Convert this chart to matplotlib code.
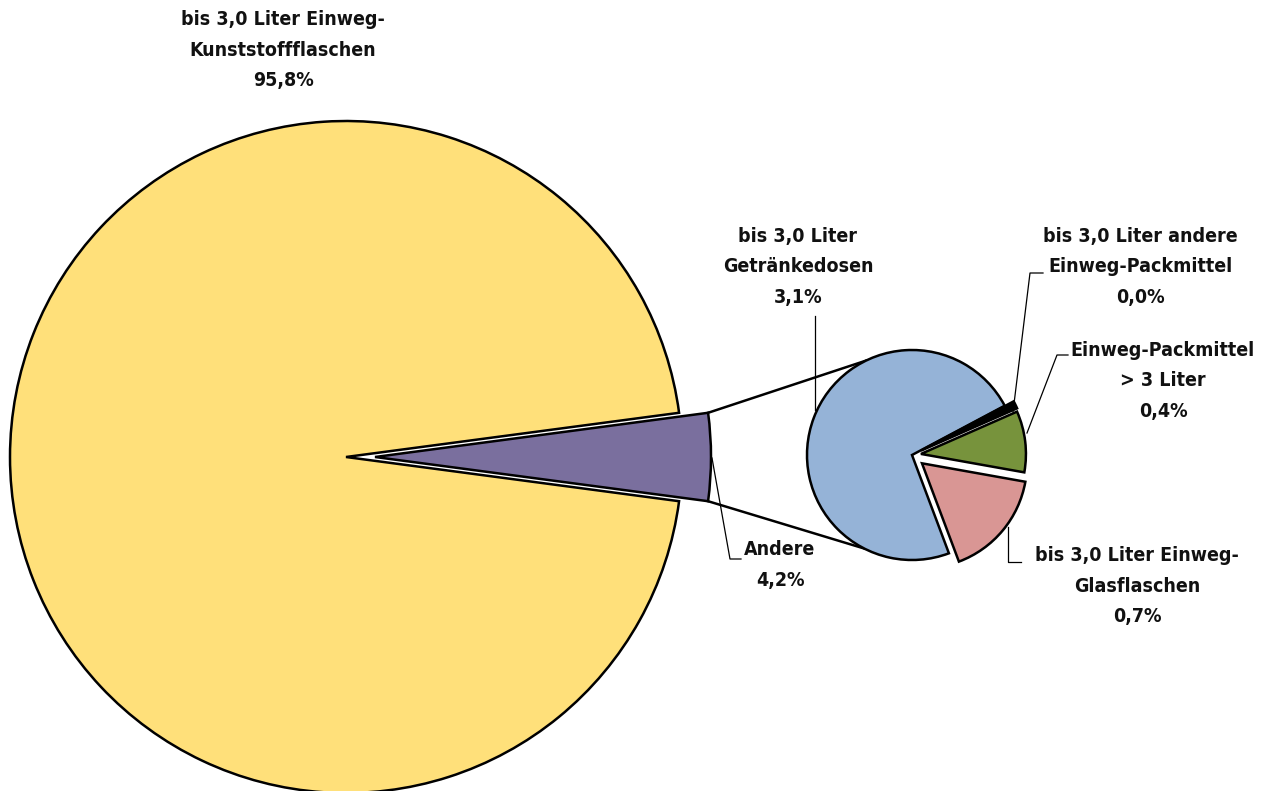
import numpy as np
import matplotlib
matplotlib.use('Agg')
import matplotlib.pyplot as plt

# big pie
main_labels = ['bis 3,0 Liter Einweg-\nKunststoffflaschen', 'Andere']
main_values = [95.8, 4.2]
main_colors = ['#FFE07A', '#7A6F9E']

# small pie (breakdown of "Andere")
sub_labels = ['bis 3,0 Liter\nGetränkedosen', 'bis 3,0 Liter Einweg-\nGlasflaschen',
              'Einweg-Packmittel\n> 3 Liter', 'bis 3,0 Liter andere\nEinweg-Packmittel']
sub_values = [3.1, 0.7, 0.4, 0.0]
sub_colors = ['#95B3D7', '#D99694', '#77933C', '#000000']

W, H = 1271, 791
plt.rcParams['font.family'] = ['DejaVu Sans']
plt.rcParams['font.stretch'] = 'condensed'

fig = plt.figure(figsize=(W / 100, H / 100), dpi=100)
ax = fig.add_axes([0, 0, 1, 1])

def Y(py):
    # pixel row -> data y
    return H - py

edge = dict(edgecolor='black', linewidth=1.8)

# Andere centred on 0 degrees; explode is in data units here (1 unit = 1 px)
start = 360 * main_values[1] / sum(main_values) / 2
big, _ = ax.pie(main_values, colors=main_colors, center=(346, Y(457)), radius=336,
                startangle=start, explode=[0, 29], wedgeprops=edge, frame=True)

# tiny value so the 0,0% slice is still visible
sub_draw = [v if v > 0 else 0.05 for v in sub_values]
small, _ = ax.pie(sub_draw, colors=sub_colors, center=(912, Y(455)), radius=105,
                  startangle=28, explode=[0, 13, 9, 10], wedgeprops=edge, frame=True)

# connector lines from the Andere wedge to the small pie
w = big[1]
cx, cy = small[0].center
for th_big, th_small in [(w.theta2, 116), (w.theta1, 243)]:
    x0 = w.center[0] + w.r * np.cos(np.radians(th_big))
    y0 = w.center[1] + w.r * np.sin(np.radians(th_big))
    x1 = cx + 105 * np.cos(np.radians(th_small))
    y1 = cy + 105 * np.sin(np.radians(th_small))
    ax.plot([x0, x1], [y0, y1], color='black', lw=1.8, zorder=0.5)

def fmt(v):
    return ('%.1f%%' % v).replace('.', ',')

tkw = dict(ha='center', va='center', fontsize=14, fontweight='bold',
           fontstretch='condensed', linespacing=1.75, color='#111111')

ax.text(283, Y(50), main_labels[0] + '\n' + fmt(main_values[0]), **tkw)
ax.text(780, Y(565), main_labels[1] + '\n' + fmt(main_values[1]), **tkw)
ax.text(798, Y(267), sub_labels[0] + '\n' + fmt(sub_values[0]), **tkw)
ax.text(1137, Y(586), sub_labels[1] + '\n' + fmt(sub_values[1]), **tkw)
ax.text(1163, Y(381), sub_labels[2] + '\n' + fmt(sub_values[2]), **tkw)
ax.text(1140, Y(267), sub_labels[3] + '\n' + fmt(sub_values[3]), **tkw)

# leader lines
lkw = dict(color='black', lw=0.9)
leaders = [
    [(712, 458), (730, 559), (741, 559)],
    [(815, 316), (815, 410)],
    [(1008, 527), (1008, 562), (1021, 562)],
    [(1027, 433), (1057, 355), (1068, 355)],
    [(1013, 412), (1030, 273), (1043, 273)],
]
for pts in leaders:
    ax.plot([p[0] for p in pts], [Y(p[1]) for p in pts], **lkw)

ax.set_xlim(0, W)
ax.set_ylim(0, H)
ax.set_aspect('equal')
ax.axis('off')

fig.savefig('out.png', dpi=100)
